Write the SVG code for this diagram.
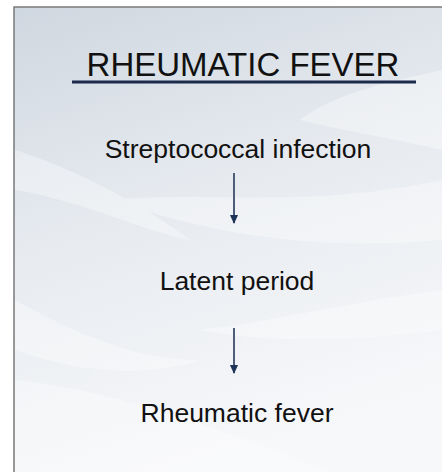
<svg xmlns="http://www.w3.org/2000/svg" width="442" height="472" viewBox="0 0 442 472">
  <defs>
    <linearGradient id="bg" x1="0" y1="0" x2="0.3" y2="1">
      <stop offset="0" stop-color="#cfd7e0"/>
      <stop offset="0.45" stop-color="#e6eaef"/>
      <stop offset="1" stop-color="#f7f8fa"/>
    </linearGradient>
    <marker id="ah" markerWidth="10" markerHeight="10" refX="8" refY="5" orient="auto" markerUnits="userSpaceOnUse" viewBox="0 0 10 10">
      <path d="M0,1 L9,5 L0,9 Z" fill="#1e3358"/>
    </marker>
    <style>
      .lbl { font-family: "Liberation Sans", Arial, sans-serif; font-size: 26.5px; fill: #111; text-anchor: middle; }
      .title { font-family: "Liberation Sans", Arial, sans-serif; font-size: 33px; fill: #111; text-anchor: middle; }
      .conn { stroke: #4d5d7a; stroke-width: 2; fill: none; }
      .leaf { fill: #ffffff; }
    </style>
  </defs>
  <rect x="0" y="0" width="442" height="472" fill="#ffffff"/>
  <rect x="14" y="7" width="440" height="480" fill="url(#bg)" stroke="#7a7a7a" stroke-width="1.5"/>
  <g opacity="0.35">
    <path class="leaf" d="M15,150 C80,170 150,210 190,240 C140,230 80,200 15,190 Z"/>
    <path class="leaf" d="M110,200 C200,190 300,210 442,180 L442,240 C330,250 230,240 110,200 Z"/>
    <path class="leaf" d="M15,300 C70,330 130,360 200,360 C140,380 70,370 15,350 Z"/>
    <path class="leaf" d="M200,330 C280,320 360,300 442,290 L442,330 C360,340 280,345 200,330 Z"/>
    <path class="leaf" d="M15,380 C120,390 250,440 330,472 L15,472 Z"/>
    <path class="leaf" d="M300,120 C340,90 400,80 442,70 L442,150 C400,140 340,130 300,120 Z"/>
  </g>
  <g id="title">
    <text class="title" x="243" y="76">RHEUMATIC FEVER</text>
    <line x1="72" y1="82" x2="416" y2="82" stroke="#1c2a4c" stroke-width="3"/>
  </g>
  <g id="node-infection">
    <text class="lbl" x="238" y="158">Streptococcal infection</text>
  </g>
  <g id="node-latent">
    <text class="lbl" x="237" y="290">Latent period</text>
  </g>
  <g id="node-fever">
    <text class="lbl" x="237" y="422">Rheumatic fever</text>
  </g>
  <g id="connectors">
    <line class="conn" x1="234" y1="173" x2="234" y2="223" marker-end="url(#ah)"/>
    <line class="conn" x1="234" y1="328" x2="234" y2="373" marker-end="url(#ah)"/>
  </g>
</svg>
